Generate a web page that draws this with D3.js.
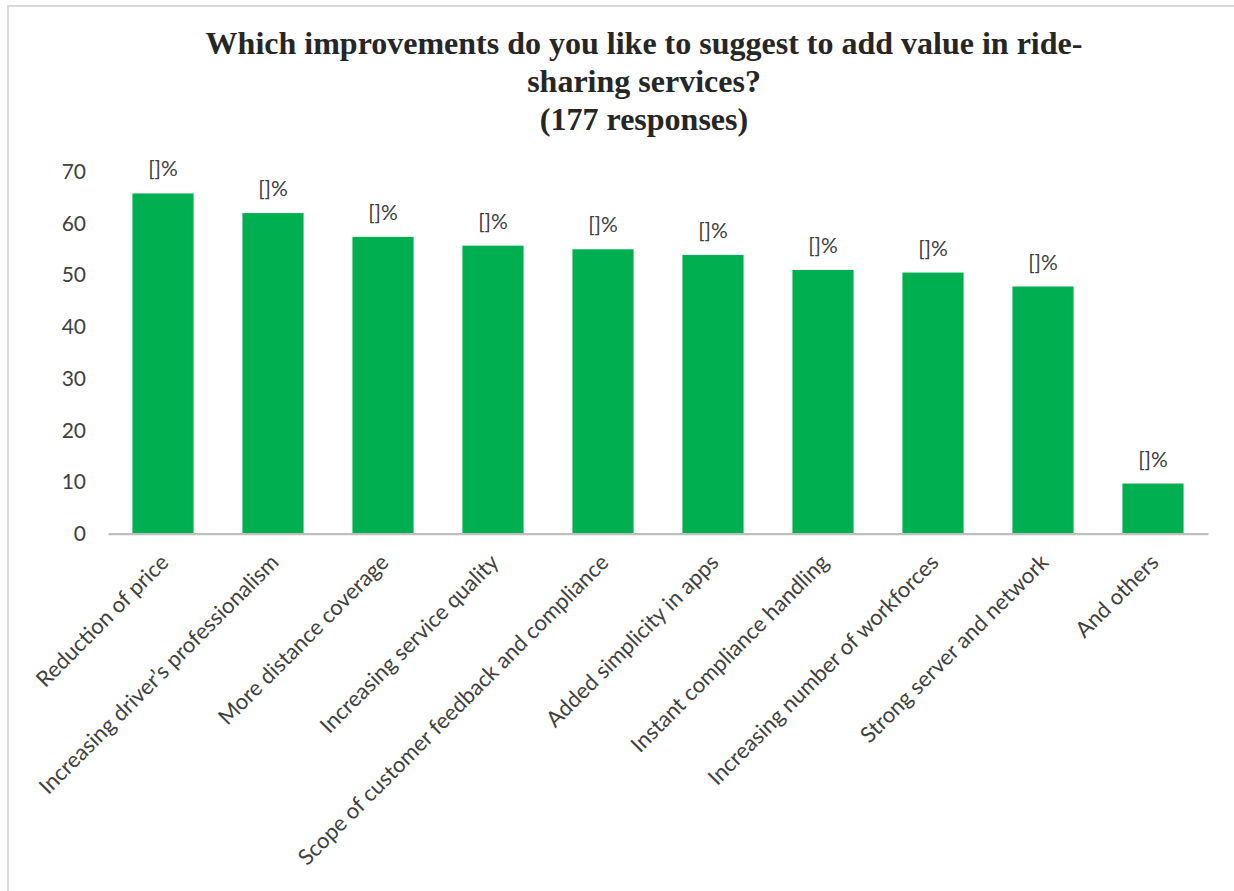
<!DOCTYPE html>
<html>
<head>
<meta charset="utf-8">
<script src="https://cdn.jsdelivr.net/npm/d3@7/dist/d3.min.js"></script>
<style>
  html, body { margin: 0; padding: 0; background: #ffffff; }
  svg { display: block; }
</style>
</head>
<body>
<svg id="chart" width="1234" height="891"></svg>
<script>
// Survey answers (percent of respondents per suggested improvement)
const categories = [
  "Reduction of price",
  "Increasing driver\u2019s professionalism",
  "More distance coverage",
  "Increasing service quality",
  "Scope of customer feedback and compliance",
  "Added simplicity in apps",
  "Instant compliance handling",
  "Increasing number of workforces",
  "Strong server and network",
  "And others"
];
const values = [65.8, 62.0, 57.4, 55.7, 55.0, 53.9, 51.0, 50.5, 47.8, 9.7];
const yTicks = [0, 10, 20, 30, 40, 50, 60, 70];
const dataLabels = ["[]%", "[]%", "[]%", "[]%", "[]%", "[]%", "[]%", "[]%", "[]%", "[]%"];
const titleLines = [
  "Which improvements do you like to suggest to add value in ride-",
  "sharing services?",
  "(177 responses)"
];

const svg = d3.select("#chart");
const W = 1234, H = 891;
const uiFont = "Lato, 'Open Sans', 'Noto Sans', sans-serif";
const textColor = "#404040";

// Outer chart frame
svg.append("rect")
  .attr("x", 8).attr("y", 6)
  .attr("width", W).attr("height", H)
  .attr("fill", "#ffffff")
  .attr("stroke", "#d9d9d9")
  .attr("stroke-width", 2);

// Title
const title = svg.append("text")
  .attr("text-anchor", "middle")
  .attr("font-family", "'Liberation Serif', 'Times New Roman', serif")
  .attr("font-weight", "bold")
  .attr("font-size", 32)
  .attr("fill", "#262626");
titleLines.forEach((line, i) => {
  title.append("tspan")
    .attr("x", 644)
    .attr("y", 54 + i * 38)
    .text(line);
});

// Scales
const x = d3.scaleBand()
  .domain(categories)
  .range([108, 1208])
  .paddingInner(0.444)
  .paddingOuter(0.222);

const y = d3.scaleLinear()
  .domain([0, 70])
  .range([533.7, 171.7]);

// Y axis (labels only)
const yAxis = svg.append("g")
  .attr("transform", "translate(86,0)")
  .call(d3.axisLeft(y).tickValues(yTicks).tickSize(0).tickPadding(0));
yAxis.select(".domain").remove();
yAxis.selectAll("text")
  .attr("font-family", uiFont)
  .attr("font-size", 21)
  .attr("fill", textColor);

// Bars
svg.append("g")
  .selectAll("rect")
  .data(values)
  .join("rect")
  .attr("x", (d, i) => x(categories[i]))
  .attr("y", d => y(d))
  .attr("width", x.bandwidth())
  .attr("height", d => y(0) - y(d))
  .attr("fill", "#00b050");

// Value labels above bars
svg.append("g")
  .selectAll("text")
  .data(values)
  .join("text")
  .attr("x", (d, i) => x(categories[i]) + x.bandwidth() / 2)
  .attr("y", d => y(d) - 17)
  .attr("text-anchor", "middle")
  .attr("font-family", uiFont)
  .attr("font-size", 21)
  .attr("fill", textColor)
  .text((d, i) => dataLabels[i]);

// X axis baseline and rotated category labels
const xAxis = svg.append("g")
  .attr("transform", `translate(0,${y(0)})`)
  .call(d3.axisBottom(x).tickSize(0).tickPadding(0));
xAxis.select(".domain")
  .attr("stroke", "#bfbfbf")
  .attr("stroke-width", 2.2);
xAxis.selectAll(".tick text")
  .attr("font-family", uiFont)
  .attr("font-size", 22)
  .attr("fill", textColor)
  .attr("text-anchor", "end")
  .attr("dy", 0)
  .attr("y", 0)
  .attr("transform", "translate(7,30) rotate(-45)");
</script>
</body>
</html>
